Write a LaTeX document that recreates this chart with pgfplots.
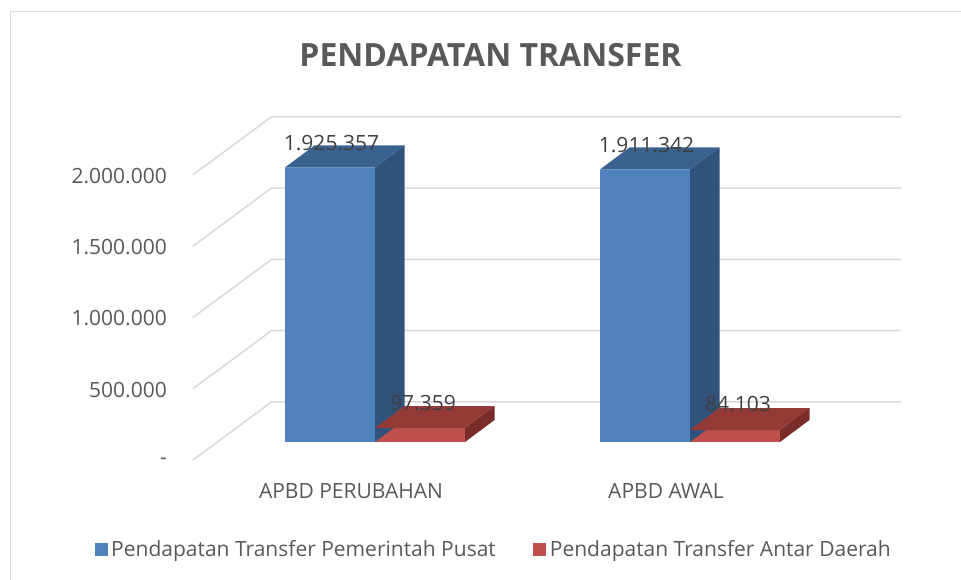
\documentclass[border=0pt]{standalone}
\usepackage{pgfplots}
\pgfplotsset{compat=1.18}
\usepackage{pgfplotstable}
\usepackage{fontspec}
\setmainfont{Open Sans}

\definecolor{blueF}{HTML}{4F81BD}
\definecolor{blueT}{HTML}{3A6291}
\definecolor{blueS}{HTML}{31527A}
\definecolor{redF}{HTML}{C0504D}
\definecolor{redT}{HTML}{943A37}
\definecolor{redS}{HTML}{7A2C2A}
\definecolor{gridc}{HTML}{D9D9D9}
\definecolor{txt}{HTML}{595959}
\definecolor{lbl}{HTML}{404040}

\newcommand\fsz{\fontsize{21pt}{25pt}\selectfont}

\pgfplotstableread{
x val
0 1925357
1 1911342
}\pusat
\pgfplotstableread{
x val
0 97359
1 84103
}\antar

\pgfplotsset{
  legend image code/.code={\fill[#1,draw=none] (0pt,-6.5pt) rectangle (13pt,6.5pt);},
  cube3d/.style n args={4}{% L, R, top colour, side colour
    forget plot, scatter, only marks, mark=*, mark size=0pt,
    point meta=y,
    visualization depends on={rawy \as \rawv},
    scatter/@pre marker code/.code={%
      \edef\h{\fpeval{round(\rawv*285.2/2000000,3)}}%
      \path[fill=#3, draw=none] (#1pt,0pt) -- (#2pt,0pt) -- ([xshift=29.5pt]#2pt,22pt) -- ([xshift=29.5pt]#1pt,22pt) -- cycle;
      \path[fill=#4, draw=none] (#2pt,0pt) -- ([xshift=29.5pt]#2pt,22pt) -- ([xshift=29.5pt,yshift=-\h pt]#2pt,22pt) -- ([yshift=-\h pt]#2pt,0pt) -- cycle;
    },
    scatter/@post marker code/.code={},
  },
  vallabel/.style 2 args={% label xshift, label yshift
    forget plot, draw=none, mark=none,
    point meta=y,
    nodes near coords={\pgfmathprintnumber[fixed,precision=0,1000 sep={.},assume math mode=true]{\pgfplotspointmeta}},
    every node near coord/.append style={anchor=center, inner sep=0pt, xshift=#1pt, yshift=#2pt, font=\fsz, text=lbl},
  },
}

\begin{document}
\begin{tikzpicture}
\useasboundingbox (0,0) rectangle (961pt,580pt);
\draw[gridc, line width=1.5pt] (10.5pt,-10pt) rectangle (975pt,568.5pt);
\node[font=\bfseries\fontsize{32pt}{38pt}\selectfont, text=txt, inner sep=0pt] at (490.5pt,524.5pt) {PENDAPATAN TRANSFER};

\begin{axis}[
  at={(217.5pt,138pt)}, anchor=south west,
  scale only axis, width=630pt, height=285.2pt,
  xmin=-0.5, xmax=1.5, ymin=0, ymax=2000000,
  clip=false,
  axis line style={draw=none}, tick style={draw=none},
  scaled y ticks=false,
  xtick={0,1}, xticklabels={APBD PERUBAHAN, APBD AWAL},
  ytick={0,500000,1000000,1500000,2000000},
  yticklabels={-, 500.000, 1.000.000, 1.500.000, 2.000.000},
  xticklabel style={anchor=center, inner sep=0pt, xshift=-24pt, yshift=-49pt, font=\fsz, text=txt},
  yticklabel style={anchor=east, inner sep=0pt, xshift=-50.5pt, yshift=-19pt, font=\fsz, text=txt},
  legend style={at={(0.4397,-0.3752)}, anchor=center, draw=none, fill=none,
    inner xsep=0pt, inner ysep=0pt,
    legend columns=-1, font=\fsz, text=txt,
    nodes={inner sep=3.5pt},
    /tikz/every even column/.append style={column sep=34pt}},
]
\pgfplotsinvokeforeach{0,500000,1000000,1500000,2000000}{
  \draw[gridc, line width=1.5pt] ([yshift=-18pt]axis cs:-0.5778,#1) -- ([yshift=40pt]axis cs:-0.3286,#1) -- ([yshift=40pt]axis cs:1.6698,#1);
}
\addplot[ybar, bar width=90pt, bar shift=-45pt, fill=blueF, draw=none] table[x=x,y=val] {\pusat};
\addlegendentry{Pendapatan Transfer Pemerintah Pusat}
\addplot[cube3d={-90}{0}{blueT}{blueS}] table[x=x,y=val] {\pusat};
\addplot[ybar, bar width=90pt, bar shift=45pt, fill=redF, draw=none] table[x=x,y=val] {\antar};
\addlegendentry{Pendapatan Transfer Antar Daerah}
\addplot[cube3d={0}{90}{redT}{redS}] table[x=x,y=val] {\antar};
\addplot[vallabel={-43.5}{24.5}] table[x=x,y=val] {\pusat};
\addplot[vallabel={48}{25.5}] table[x=x,y=val] {\antar};
\end{axis}
\end{tikzpicture}
\end{document}
